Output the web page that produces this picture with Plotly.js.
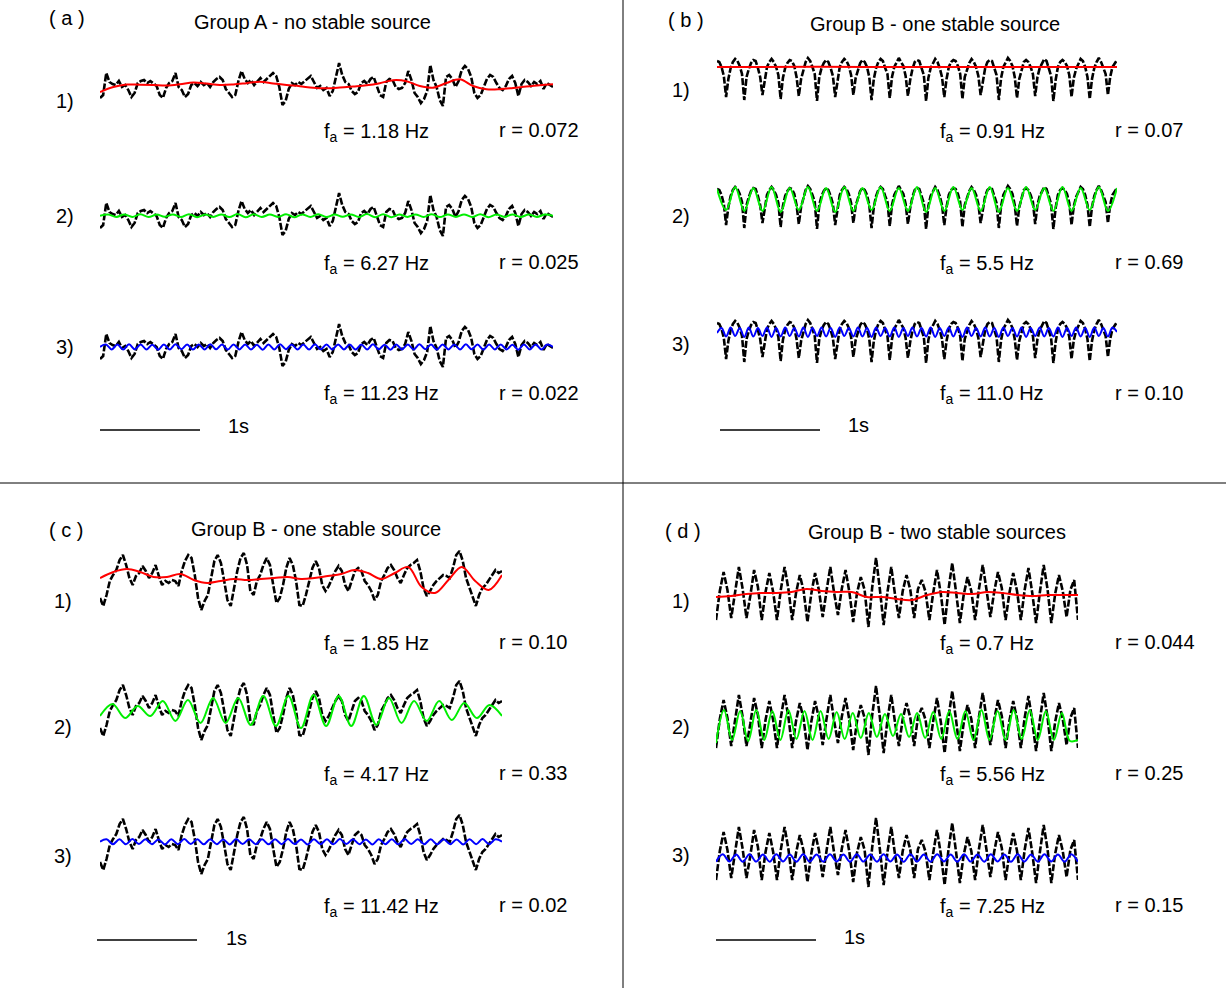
<!DOCTYPE html>
<html><head><meta charset="utf-8">
<script src="https://cdn.plot.ly/plotly-3.0.1.min.js"></script>
<style>html,body{margin:0;padding:0;background:#fff}#chart{width:1226px;height:988px}</style>
</head><body><div id="chart"></div>
<script>
// ---------- data (in pixel-like amplitude units) ----------
const sigA = [-13,-10,12,3,1,0,4,-2,0,-5,-12,-8,2,4,5,2,4,1,-1,-10,-13,-3,2,4,12,-2,-5,-12,-9,0,2,-1,3,0,2,-2,3,6,8,5,-4,-8,-12,-10,4,14,6,2,5,0,4,7,3,6,10,12,9,-2,-20,-16,-4,2,0,3,1,4,6,9,3,-3,-1,-5,-3,-11,-6,8,22,10,3,1,-6,-9,-7,2,4,1,6,8,-2,-10,-12,3,6,5,-2,-4,-3,2,14,5,-8,-12,-18,-14,-6,20,5,-2,-15,-21,8,10,6,-2,4,15,19,16,8,-8,-13,-10,-2,6,10,8,2,-3,-5,-1,6,9,2,-11,1,5,3,-1,3,1,4,-4,2,0,-2];
const fitA1 = [-7,-2,0.5,0.3,0,-0.5,0.7,2.5,1.5,0,0.5,1.8,3.2,1.5,0,-1.2,-2.8,-3.3,-2.6,-1.5,-0.3,1.8,4.8,3.8,-1,-2.7,2,5.8,-1,-4.2,-4.2,-3,-1.5,-0.2,0.7];
const fitA2 = [-0.7,0.6,-2.0,0.5,-1.9,0.7,-2.1,0.4,-1.8,0.6,-2.0,0.8,-2.2,0.5,-1.9,0.6,-2.1,0.9,-2.3,0.7,-2.0,0.5,-1.9,0.8,-2.2,0.6,-2.0,0.7,-2.1,0.4,-1.8,0.6,-2.0,0.9,-2.3,0.8,-2.2,0.5,-1.9,0.6,-2.0,0.7,-2.1,0.5,-1.9,0.6,-2.0,0.8,-2.2,0.5,-1.9,0.6,-2.0,0.5,-1.9,0.4,-0.7];
const fitA3 = [-1,1.6,-3.4,1.4,-3.6,1.7,-3.3,1.5,-3.5,1.3,-3.7,1.6,-3.4,1.8,-3.2,1.4,-3.6,1.5,-3.5,1.7,-3.3,1.4,-3.6,1.6,-3.4,1.5,-3.5,1.3,-3.7,1.6,-3.4,1.8,-3.2,1.5,-3.5,1.4,-3.6,1.7,-3.3,1.5,-3.5,1.6,-3.4,1.4,-3.6,1.5,-3.5,1.7,-3.3,1.3,-3.7,1.6,-3.4,1.5,-3.5,1.8,-3.2,1.4,-3.6,1.6,-3.4,1.5,-3.5,1.7,-3.3,1.4,-3.6,1.5,-3.5,1.6,-3.4,1.3,-3.7,1.5,-3.5,1.6,-3.4,1.4,-1];

const sigB = [4,3,-2,-11,-32,-14,-3,3, 6,4,-1,-9,-35,-12,-4,2, 5,4,-3,-12,-30,-15,-2,3, 6,3,-2,-10,-34,-13,-3,2,
  5,4,-1,-12,-31,-14,-4,3, 7,4,-2,-9,-36,-12,-3,2, 5,3,-3,-11,-32,-15,-2,3, 6,4,-1,-10,-30,-13,-4,2,
  5,3,-2,-12,-35,-14,-3,3, 6,4,-3,-9,-33,-12,-2,2, 7,3,-1,-11,-31,-15,-4,3, 5,4,-2,-10,-36,-13,-3,2,
  6,3,-3,-12,-32,-14,-2,3, 5,4,-1,-9,-34,-12,-4,2, 6,3,-2,-11,-30,-15,-3,3, 5,4,-3,-10,-35,-13,-2,2,
  7,4,-1,-12,-33,-14,-4,3, 5,3,-2,-9,-31,-12,-3,2, 6,4,-3,-11,-36,-15,-2,3, 5,3,-1,-10,-32,-13,-4,2,
  6,4,-2,-12,-34,-14,-3,3, 7,3,-3,-9,-30,-12,-2,2, 5];
const fitB1 = [-2.0,-1.8,-2.1,-1.9,-2.0];
const fitB2 = [4,-17,6,-18,5,-18,6,-19,5,-17,6,-18,5,-19,6,-18,5,-17,6,-18,5,-18,6,-19,5,-18,6,-17,5,-18,6,-19,5,-18,6,-17,5,-18,6,-18,5,-17,6,-18,5];
const fitB3 = [-6,-1,-9.5,-0.5,-9,-1,-10,-0.5,-9.5,-1,-9,-0.5,-10,-1,-9.5,-0.5,-9,-1,-9.5,-0.5,-10,-1,-9,-0.5,-9.5,-1,-10,-0.5,-9,-1,-9.5,-0.5,-9.5,-1,-10,-0.5,-9,-1,-9.5,-0.5,-10,-1,-9,-0.5,-9.5,-1,-9.5,-0.5,-10,-1,-9,-0.5,-9.5,-1,-10,-0.5,-9,-1,-9.5,-0.5,-9.5,-1,-10,-0.5,-9,-1,-9.5,-0.5,-10,-1,-9,-0.5,-9.5,-1,-9.5,-0.5,-10,-1,-9,-0.5,-9.5,-1,-10,-0.5,-9,-1,-9.5,-0.5,-5];

const sigC = [-20,-28,-17,-3,3,8,18,23,13,0,-7,2,5,12,7,0,5,13,2,-7,-3,-5,-2,-3,-8,7,17,23,20,3,-20,-32,-23,-17,0,17,23,15,-3,-22,-28,-10,7,20,25,13,-13,-17,-3,3,13,20,13,-7,-25,-20,-7,10,20,13,-3,-27,-28,-17,-3,10,17,10,-7,-13,-8,0,7,12,7,-7,-13,-3,7,10,7,-3,-7,-13,-22,-17,-3,3,10,13,8,0,-5,3,10,13,15,18,7,-10,-18,-13,-7,-3,0,3,2,0,10,23,27,17,0,-10,-20,-28,-17,-10,-7,-2,3,8,5,7];
const fitC1 = [0,6,9,6,1,1,4,-2,-5,-3,-1,-2,-1,0,1,-1,0,2,4,8,5,-1,5,11,-9,-15,-2,11,-3,-12,3];
const fitC2 = [-8,4,-10,2,-8,7,-13,8,-15,10,-15,10,-17,12,-18,12,-20,13,-18,12,-18,12,-17,10,-15,7,-13,7,-12,5,-10,3,-8];
const fitC3 = [0.3,2.8,-2.2,2.7,-2.3,2.9,-2.1,2.8,-2.2,2.6,-2.4,2.8,-2.2,2.9,-2.1,2.7,-2.3,2.8,-2.2,2.6,-2.4,2.9,-2.1,2.8,-2.2,2.7,-2.3,2.8,-2.2,2.9,-2.1,2.6,-2.4,2.8,-2.2,2.7,-2.3,2.9,-2.1,2.8,-2.2,2.6,-2.4,2.8,-2.2,2.7,-2.3,2.9,-2.1,2.8,-2.2,2.7,-2.3,2.8,-2.2,2.6,-2.4,2.8,-2.2,2.9,-2.1,2.7,0.3];

const sigD = [-25, 4,23,5,-23, 2,28,6,-23, -1,25,8,-25, 3,22,3,-25, 5,28,6,-25, 2,20,4,-27, 1,22,5,-22, 4,28,2,-20, 6,25,3,-27, 2,18,5,-32, 8,37,6,-30, 3,28,0,-23, 4,20,5,-23, 6,15,3,-25, 2,25,1,-30, 5,32,3,-28, 0,18,4,-25, 6,30,5,-22, 3,23,7,-25, 2,22,4,-25, 5,27,2,-28, 3,30,6,-28, 1,20,4,-22, 5,15,-25];
const fitD1 = [-2,-1,1,2,2,3,6,4,3,3,-2,-2,-4,-5,0,3,2,1,3,2,0,-1,0,0,0];
const fitD2 = [-20,13,-17,12,-18,13,-17,12,-17,13,-16,12,-17,12,-16,11,-16,10,-15,10,-14,9,-13,9,-14,10,-15,11,-16,12,-16,12,-17,13,-17,12,-17,13,-16,13,-17,12,-17,10,-18,-17];
const fitD3 = [-6.7,0.7,-6.5,0.5,-6.8,0.8,-6.6,0.6,-6.7,0.7,-6.5,0.5,-6.8,0.8,-6.6,0.6,-6.7,0.7,-6.5,0.5,-6.8,0.8,-6.6,0.6,-6.7,0.7,-6.5,0.5,-6.8,0.8,-6.6,0.6,-6.7,0.7,-6.5,0.5,-6.8,0.8,-6.6,0.6,-6.7,0.7,-6.5,0.5,-6.8,0.8,-6.6,0.6,-6.7,0.7,-6.5,0.5,-6.8,0.8,-6.7];

const panelLabels = ['( a )','( b )','( c )','( d )'];
const panelTitles = ['Group A - no stable source','Group B - one stable source','Group B - one stable source','Group B - two stable sources'];
const rowLabels = ['1)','2)','3)'];
const freqLabels = [['1.18','6.27','11.23'],['0.91','5.5','11.0'],['1.85','4.17','11.42'],['0.7','5.56','7.25']];
const rLabels = [['0.072','0.025','0.022'],['0.07','0.69','0.10'],['0.10','0.33','0.02'],['0.044','0.25','0.15']];
const scaleLabel = '1s';

// ---------- layout geometry ----------
const W = 1226, H = 988;
const FONT = 'Arial, "Liberation Sans", sans-serif';
const FS = 20;
const colors = ['#ff0000','#00ee00','#0000ff'];
const signals = [sigA, sigB, sigC, sigD];
const fits = [[fitA1,fitA2,fitA3],[fitB1,fitB2,fitB3],[fitC1,fitC2,fitC3],[fitD1,fitD2,fitD3]];
const geo = [
  {xl:100, xr:553, zero:[85,215,346], rowLab:[65,[101,216,347]], fa:322, rr:497, txtY:[130,262,393], lab:[67,18], title:[312,22], bar:[100,200,430], barTxt:[238,426]},
  {xl:717, xr:1117, zero:[65,193,327], rowLab:[681,[90,216,344]], fa:938, rr:1113, txtY:[130,262,393], lab:[686,20], title:[935,24], bar:[720,820,430], barTxt:[858,425]},
  {xl:100, xr:502, zero:[578,708,842], rowLab:[63,[601,727,856]], fa:322, rr:497, txtY:[642,773,905], lab:[66,530], title:[316,529], bar:[97,197,940], barTxt:[236,938]},
  {xl:716, xr:1078, zero:[595,723,855], rowLab:[681,[601,727,855]], fa:938, rr:1113, txtY:[642,773,905], lab:[683,531], title:[937,532], bar:[716,816,940], barTxt:[854,937]}
];

const traces = [];
const layout = {
  width: W, height: H, margin:{l:0,r:0,t:0,b:0,pad:0},
  paper_bgcolor:'#fff', plot_bgcolor:'rgba(0,0,0,0)', showlegend:false,
  annotations:[], shapes:[]
};
const px = x => x / W, py = y => 1 - y / H;
function ann(text, x, y, xanchor){
  layout.annotations.push({text, x:px(x), y:py(y), xref:'paper', yref:'paper', xanchor:xanchor||'center', yanchor:'middle', showarrow:false, font:{family:FONT, size:FS, color:'#000'}});
}

let k = 0;
for (let p = 0; p < 4; p++) {
  const g = geo[p], sig = signals[p];
  for (let r = 0; r < 3; r++) {
    k++;
    const s = k === 1 ? '' : String(k);
    const fit = fits[p][r];
    traces.push({type:'scatter', mode:'lines', y:sig, xaxis:'x'+s, yaxis:'y'+s, hoverinfo:'skip',
      line:{color:'#000', width:2.6, dash:'7px,2px'}});
    traces.push({type:'scatter', mode:'lines', y:fit, x0:0, dx:(sig.length-1)/(fit.length-1), xaxis:'x'+s, yaxis:'y'+s, hoverinfo:'skip',
      line:{color:colors[r], width:2, shape:'spline', smoothing:1}});
    const z = g.zero[r];
    layout['xaxis'+s] = {domain:[px(g.xl), px(g.xr)], range:[0, sig.length-1], visible:false, anchor:'y'+s, fixedrange:true};
    layout['yaxis'+s] = {domain:[1-(z+50)/H, 1-(z-50)/H], range:[-50,50], visible:false, anchor:'x'+s, fixedrange:true};
    ann(rowLabels[r], g.rowLab[0], g.rowLab[1][r]);
    ann('f<sub>a</sub> = ' + freqLabels[p][r] + ' Hz', g.fa, g.txtY[r]+2, 'left');
    ann('r = ' + rLabels[p][r], g.rr, g.txtY[r], 'left');
  }
  ann(panelLabels[p], g.lab[0], g.lab[1]);
  ann(panelTitles[p], g.title[0], g.title[1]);
  ann(scaleLabel, g.barTxt[0], g.barTxt[1]);
  layout.shapes.push({type:'line', xref:'paper', yref:'paper', x0:px(g.bar[0]), x1:px(g.bar[1]), y0:py(g.bar[2]), y1:py(g.bar[2]), line:{color:'#000', width:1.5}});
}
// panel dividers
layout.shapes.push({type:'line', xref:'paper', yref:'paper', x0:px(623), x1:px(623), y0:0, y1:1, line:{color:'#000', width:1}});
layout.shapes.push({type:'line', xref:'paper', yref:'paper', x0:0, x1:1, y0:py(483), y1:py(483), line:{color:'#000', width:1}});

Plotly.newPlot('chart', traces, layout, {staticPlot:true, displayModeBar:false});
</script>
</body></html>
